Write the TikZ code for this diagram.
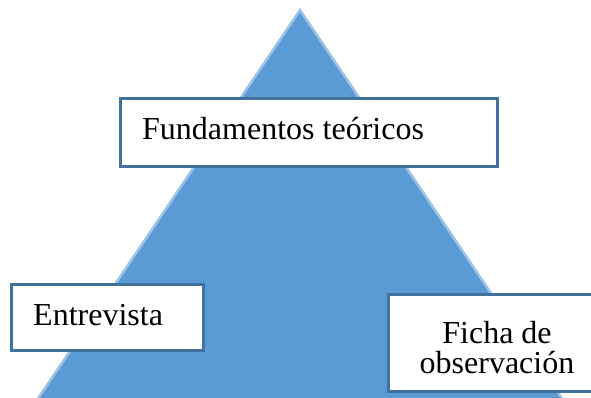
\documentclass[tikz,border=0pt]{standalone}
\usepackage{fontspec}
\setmainfont{Liberation Serif}
\definecolor{trifill}{HTML}{5B9BD5}
\definecolor{triedge}{HTML}{9DC3E6}
\definecolor{boxedge}{HTML}{41719C}
\tikzset{
  tri/.style={fill=trifill, draw=triedge, line width=2.5pt, line join=miter},
  tbox/.style={fill=white, draw=boxedge, line width=3pt},
  lbl/.style={inner sep=0pt, font=\fontsize{32}{28}\selectfont, text=black}
}
\begin{document}
\begin{tikzpicture}[x=1pt,y=-1pt]
\useasboundingbox (0,0) rectangle (591,398);
\fill[white] (0,0) rectangle (591,398);
\coordinate (apex) at (300,10);
\coordinate (bl) at (37,400);
\coordinate (br) at (563,400);
\draw[tri] (apex) -- (bl) -- (br) -- cycle;
\draw[tbox] (120,99) rectangle (497,167);
\node[lbl, anchor=base west] (fund) at (142,140) {Fundamentos teóricos};
\draw[tbox] (11,284) rectangle (203,350);
\node[lbl, anchor=base west] (entr) at (33,325) {Entrevista};
\draw[tbox] (388,294) rectangle (610,391);
\node[lbl, anchor=base, text depth=0pt] (ficha1) at (497,343) {Ficha de};
\node[lbl, anchor=base, text height=18pt] (ficha2) at (497,373) {observación};
\end{tikzpicture}
\end{document}
